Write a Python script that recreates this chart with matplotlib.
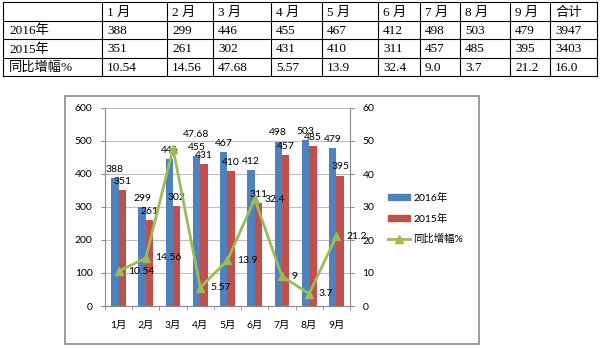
import matplotlib
matplotlib.use("Agg")
import matplotlib.pyplot as plt
from matplotlib.patches import Rectangle
from matplotlib.lines import Line2D

# Daten aus der Tabelle / dem Diagramm
monate = ["1月", "2月", "3月", "4月", "5月", "6月", "7月", "8月", "9月"]
kopf = ["1 月", "2 月", "3 月", "4 月", "5 月", "6 月", "7 月", "8 月", "9 月", "合计"]
absatz_2016 = [388, 299, 446, 455, 467, 412, 498, 503, 479]
absatz_2015 = [351, 261, 302, 431, 410, 311, 457, 485, 395]
summe_2016 = 3947
summe_2015 = 3403
zuwachs = [10.54, 14.56, 47.68, 5.57, 13.9, 32.4, 9.0, 3.7, 21.2]
zuwachs_tabelle = ["10.54", "14.56", "47.68", "5.57", "13.9", "32.4", "9.0", "3.7", "21.2", "16.0"]
zuwachs_labels = ["10.54", "14.56", "47.68", "5.57", "13.9", "32.4", "9", "3.7", "21.2"]
zeilen = ["2016年", "2015年", "同比增幅%"]

W, H = 600, 348
BLAU = "#4F81BD"
ROT = "#C0504D"
GRUEN = "#9BBB59"
SERIF = ["Liberation Serif", "Noto Sans CJK SC"]
SANS = ["Lato", "Noto Sans CJK SC"]
FS = 7.5


def px(x, y):
    return x / W, 1 - y / H


fig = plt.figure(figsize=(6, 3.48), dpi=100)
fig.patch.set_facecolor("white")

# ---------------- Tabelle oben ----------------
spalten = [3, 102, 167, 213, 271, 322, 378, 420, 460, 510, 550, 597]
reihen = [2, 21, 39, 58, 76]

for xs in spalten:
    fig.add_artist(Line2D([xs / W, xs / W], [1 - reihen[0] / H, 1 - reihen[-1] / H],
                          color="black", lw=0.8))
for ys in reihen:
    fig.add_artist(Line2D([spalten[0] / W, spalten[-1] / W], [1 - ys / H, 1 - ys / H],
                          color="black", lw=0.8))

tabelle = [
    [""] + kopf,
    [zeilen[0]] + [str(v) for v in absatz_2016] + [str(summe_2016)],
    [zeilen[1]] + [str(v) for v in absatz_2015] + [str(summe_2015)],
    [zeilen[2]] + zuwachs_tabelle,
]
for r, zeile in enumerate(tabelle):
    yc = (reihen[r] + reihen[r + 1]) / 2 + 1
    for c, text in enumerate(zeile):
        pad = 6 if c == 0 else 5
        fig.text(*px(spalten[c] + pad, yc), text, family=SERIF, fontsize=9.5,
                 va="center", ha="left", color="black")

# ---------------- Diagramm ----------------
fig.add_artist(Rectangle(px(65, 344), 414 / W, 248 / H, transform=fig.transFigure,
                         facecolor="white", edgecolor="#8c8c8c", lw=1.2, zorder=-5))

ax = fig.add_axes([105 / W, 1 - 306 / H, 245 / W, 198 / H])
ax.patch.set_alpha(0)
ax2 = ax.twinx()

x = list(range(len(monate)))
breite = 0.27
ax.bar([i - breite / 2 for i in x], absatz_2016, breite, color=BLAU, label="2016年", zorder=2)
ax.bar([i + breite / 2 for i in x], absatz_2015, breite, color=ROT, label="2015年", zorder=2)

for i in x:
    ax.annotate(str(absatz_2016[i]), (i - breite / 2, absatz_2016[i]), xytext=(0, 3),
                textcoords="offset points", ha="center", va="bottom",
                family=SANS, fontsize=FS, zorder=5)
    ax.annotate(str(absatz_2015[i]), (i + breite / 2, absatz_2015[i]), xytext=(0, 3),
                textcoords="offset points", ha="center", va="bottom",
                family=SANS, fontsize=FS, zorder=5)

ax.set_xlim(-0.5, len(monate) - 0.5)
ax.set_ylim(0, 600)
ax.set_yticks(range(0, 601, 100))
ax.set_xticks(x)
ax.set_xticklabels(monate, family=SANS, fontsize=FS)
ax.set_xticks([i + 0.5 for i in range(-1, len(monate))], minor=True)
ax.tick_params(axis="x", which="major", length=0, pad=11)
ax.tick_params(axis="x", which="minor", length=3, color="#8c8c8c")
ax.tick_params(axis="y", length=3, color="#8c8c8c", labelsize=FS, pad=6)
for lab in ax.get_yticklabels():
    lab.set_family(SANS)
ax.grid(axis="y", color="#bfbfbf", lw=0.8, zorder=0)
ax.set_axisbelow(True)

ax2.plot(x, zuwachs, color=GRUEN, lw=2, marker="^", markersize=5.5,
         label="同比增幅%", zorder=4)
for i in x:
    dy = 10 if zuwachs_labels[i] == "47.68" else 0
    ax2.annotate(zuwachs_labels[i], (i, zuwachs[i]), xytext=(7, dy),
                 textcoords="offset points", ha="left", va="center",
                 family=SANS, fontsize=FS, zorder=5)
ax2.set_ylim(0, 60)
ax2.set_yticks(range(0, 61, 10))
ax2.tick_params(axis="y", length=3, color="#8c8c8c", labelsize=FS, pad=6)
for lab in ax2.get_yticklabels():
    lab.set_family(SANS)

for a in (ax, ax2):
    a.spines["top"].set_visible(False)
    for s in ("left", "right", "bottom"):
        a.spines[s].set_color("#8c8c8c")
        a.spines[s].set_linewidth(0.8)
ax.spines["right"].set_visible(False)
ax2.spines["left"].set_visible(False)
ax2.spines["bottom"].set_visible(False)

handles = [
    Rectangle((0, 0), 1, 1, color=BLAU),
    Rectangle((0, 0), 1, 1, color=ROT),
    Line2D([], [], color=GRUEN, lw=2, marker="^", markersize=5.5),
]
fig.legend(handles, ["2016年", "2015年", "同比增幅%"], loc="upper left",
           bbox_to_anchor=px(388, 193), frameon=False, borderpad=0, borderaxespad=0,
           handlelength=2.1, handleheight=0.5, handletextpad=0.3, labelspacing=1.0,
           prop={"family": SANS, "size": FS}, numpoints=1)

fig.savefig("out.png", dpi=100, facecolor="white")
